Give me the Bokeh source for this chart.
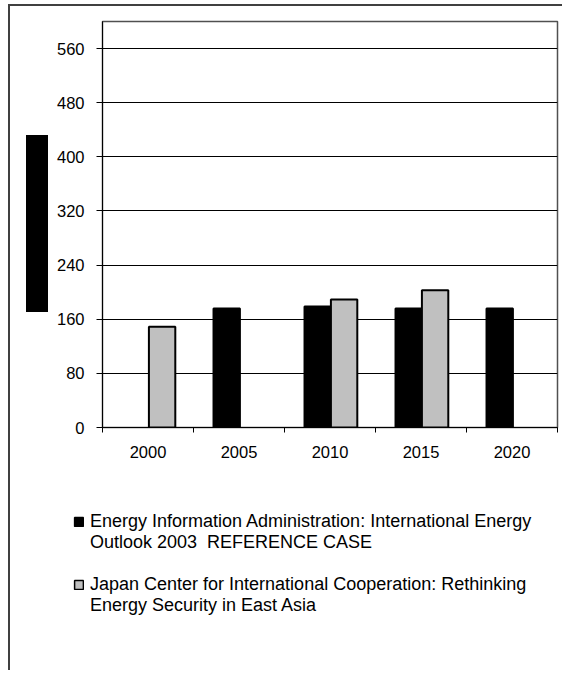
from bokeh.plotting import figure
from bokeh.layouts import column
from bokeh.models import FixedTicker, Range1d, Legend, LegendItem, ColumnDataSource
from bokeh.embed import file_html
from bokeh.resources import INLINE

# ---- data ----
years = ["2000", "2005", "2010", "2015", "2020"]
eia_values = [None, 176, 179, 176, 176]
jcic_values = [149, None, 189, 203, None]
y_ticks = [0, 80, 160, 240, 320, 400, 480, 560]
series_labels = [
    "Energy Information Administration: International Energy\nOutlook 2003  REFERENCE CASE",
    "Japan Center for International Cooperation: Rethinking\nEnergy Security in East Asia",
]
series_colors = ["#000000", "#c0c0c0"]

FONT = "Liberation Sans"
W, H1, H2 = 562, 470, 200

n = len(years)
p = figure(width=W, height=H1, x_range=Range1d(0, n), y_range=Range1d(0, 600),
           output_backend="svg", toolbar_location=None,
           min_border_left=102, min_border_right=5, min_border_top=21,
           min_border_bottom=H1 - 21 - 406)
p.background_fill_color = "white"
p.border_fill_color = None
p.outline_line_color = "#505050"
p.outline_line_width = 1.5


def series_source(values, offset):
    xs, tops = [], []
    for i, v in enumerate(values):
        if v is not None:
            xs.append(i + 0.5 + offset)
            tops.append(v)
    return ColumnDataSource(dict(x=xs, top=tops))


bw = 0.29
bar_style = dict(line_color="black", line_width=2)
p.vbar(x="x", top="top", bottom=0, width=bw, source=series_source(eia_values, -0.135),
       fill_color=series_colors[0], **bar_style)
p.vbar(x="x", top="top", bottom=0, width=bw, source=series_source(jcic_values, 0.155),
       fill_color=series_colors[1], **bar_style)

# x axis: labels at category centres, ticks at category boundaries
p.xaxis.ticker = FixedTicker(ticks=[i + 0.5 for i in range(n)], minor_ticks=list(range(n + 1)))
p.xaxis.major_label_overrides = {i + 0.5: years[i] for i in range(n)}
p.xaxis.major_tick_out = 0
p.xaxis.major_tick_in = 0
p.xaxis.minor_tick_out = 5
p.xaxis.minor_tick_in = 0
p.xaxis.major_label_standoff = 13
p.xaxis.axis_line_color = "black"
p.xaxis.minor_tick_line_color = "black"
p.xgrid.visible = False

p.yaxis.ticker = FixedTicker(ticks=y_ticks)
p.yaxis.major_tick_out = 6
p.yaxis.major_tick_in = 0
p.yaxis.minor_tick_line_color = None
p.yaxis.major_label_standoff = 12
p.yaxis.axis_line_color = "black"
p.ygrid.ticker = FixedTicker(ticks=y_ticks)
p.ygrid.grid_line_color = "black"
p.ygrid.grid_line_width = 1

for ax in (p.xaxis[0], p.yaxis[0]):
    ax.major_label_text_font = FONT
    ax.major_label_text_font_size = "16.5px"
    ax.major_label_text_color = "black"

# ---- legend strip below the chart ----
lg = figure(width=W, height=H2, x_range=Range1d(0, 1), y_range=Range1d(0, 1),
            output_backend="svg", toolbar_location=None,
            x_axis_type=None, y_axis_type=None,
            min_border_left=73, min_border_right=0, min_border_top=511 - H1, min_border_bottom=0)
if "frame_align" in lg.properties():
    lg.frame_align = False
lg.outline_line_color = None
lg.background_fill_color = None
lg.border_fill_color = None
lg.xgrid.visible = False
lg.ygrid.visible = False


# legend key renderers: a single zero-size bar in the corner, so only the key swatch shows
def key_renderer(**style):
    src = ColumnDataSource(dict(x=[1.0], top=[0.0]))
    return lg.vbar(x="x", top="top", bottom=0, width=0, source=src, **style)


keys = [key_renderer(fill_color=c, line_color="black", line_width=1.5) for c in series_colors]
blank = key_renderer(fill_alpha=0, line_alpha=0)

items = []
for si, lab in enumerate(series_labels):
    if si > 0:
        items.append(LegendItem(label=" ", renderers=[blank]))
    lines = lab.split("\n")
    items.append(LegendItem(label=lines[0], renderers=[keys[si]]))
    for extra in lines[1:]:
        items.append(LegendItem(label=extra, renderers=[blank]))

legend = Legend(items=items, location="top_left", orientation="vertical",
                label_text_font=FONT, label_text_font_size="18px", label_text_color="black",
                label_height=21, glyph_width=11, glyph_height=11,
                label_standoff=6, spacing=0, padding=0, margin=0,
                border_line_color=None, background_fill_alpha=0)
lg.add_layout(legend)

page = column(p, lg, spacing=0)
# outer chart-area border (left/top edges) and the blacked-out axis title block
page.styles = {
    "background-color": "white",
    "background-image": ("linear-gradient(#000,#000), linear-gradient(#404040,#404040), "
                         "linear-gradient(#404040,#404040)"),
    "background-position": "26px 135px, 8px 4px, 8px 4px",
    "background-size": "22px 177px, 2px 680px, 570px 2px",
    "background-repeat": "no-repeat",
}

open("out.html", "w").write(file_html(page, INLINE))
